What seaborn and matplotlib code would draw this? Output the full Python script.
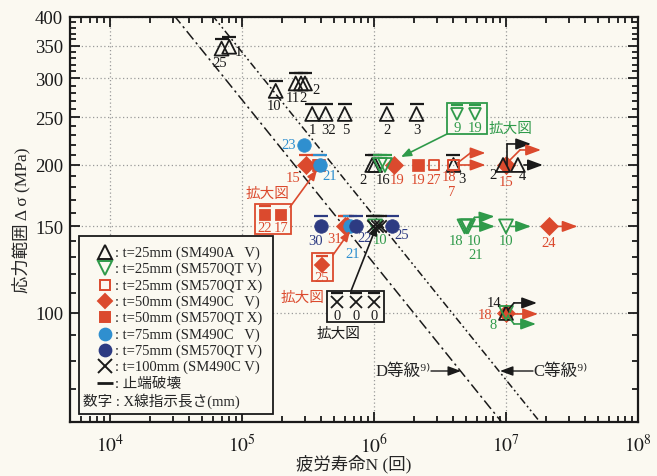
import warnings
warnings.filterwarnings("ignore")
import numpy as np
import pandas as pd
import matplotlib
matplotlib.use("Agg")
import matplotlib.pyplot as plt
import seaborn as sns
from matplotlib.patches import Rectangle
from matplotlib.ticker import FixedLocator, NullFormatter, FuncFormatter

sns.set_theme(style="ticks")
FAM = ["Liberation Serif", "Noto Sans CJK JP", "DejaVu Sans"]
plt.rcParams["font.family"] = FAM
plt.rcParams["mathtext.fontset"] = "stix"

# ---------------- data ----------------
# t=25mm (SM490A V) : black open up-triangles
tri_N = [7.0e4, 8.0e4, 1.8e5, 2.55e5, 2.8e5, 3.0e5, 3.4e5, 4.3e5, 6.0e5, 1.25e6, 2.1e6,
         0.97e6, 1.02e6, 4.0e6, 9.5e6, 1.23e7, 1.0e7]
tri_S = [345, 348, 283, 293, 293, 293, 254, 254, 254, 254, 254,
         200, 200, 200, 200, 200, 100]
tri_toe = [1, 1, 1, 1, 1, 1, 1, 1, 1, 1, 1, 1, 1, 1, 0, 0, 0]
tri_lab = ["25", "1", "10", "11", "2", "2", "1", "32", "5", "2", "3",
           "2", "16", "3", "2", "4", "14"]

# t=25mm (SM570QT V) : green open down-triangles
grn_N = [1.11e6, 1.21e6, 1.02e6, 4.85e6, 5.0e6, 5.15e6, 1.0e7, 1.0e7]
grn_S = [200, 200, 150, 150, 150, 150, 150, 100]
grn_toe = [1, 1, 1, 0, 0, 0, 0, 0]
grn_lab = ["9", "19", "10", "18", "10", "21", "10", "8"]

# t=25mm (SM570QT X) : red open squares
ro_N = [2.85e6, 4.0e6, 4.0e6]
ro_S = [200, 200, 200]
ro_toe = [0, 0, 0]
ro_lab = ["27", "18", "7"]

# t=50mm (SM490C V) : red diamonds
rd_N = [3.05e5, 6.0e5, 6.2e5, 1.41e6, 1.0e7, 2.1e7, 1.0e7]
rd_S = [200, 150, 150, 200, 200, 150, 100]
rd_toe = [1, 1, 1, 0, 0, 0, 0]
rd_lab = ["15", "31", "25", "19", "15", "24", "18"]

# t=50mm (SM570QT X) : red filled squares
rf_N = [3.75e5, 3.85e5, 2.15e6]
rf_S = [200, 200, 200]
rf_toe = [1, 0, 0]
rf_lab = ["22", "17", "19"]

# t=75mm (SM490C V) : light blue circles
lb_N = [2.95e5, 3.9e5, 6.6e5]
lb_S = [220, 200, 150]
lb_toe = [0, 1, 1]
lb_lab = ["23", "21", "21"]

# t=75mm (SM570QT V) : navy circles
nv_N = [4.0e5, 7.3e5, 1.37e6]
nv_S = [150, 150, 150]
nv_toe = [1, 1, 1]
nv_lab = ["30", "22", "25"]

# t=100mm (SM490C V) : black crosses
xx_N = [0.98e6, 1.05e6, 1.12e6]
xx_S = [150, 150, 150]
xx_toe = [1, 1, 1]
xx_lab = ["0", "0", "0"]

# design curves (JSSC): stress range at 2e6 cycles, slope m=3
grade_names = ["D等級⁹⁾", "C等級⁹⁾"]
grade_S2M = [100, 125]

x_ticks = [1e4, 1e5, 1e6, 1e7, 1e8]
x_ticklabels = ["$10^{4}$", "$10^{5}$", "$10^{6}$", "$10^{7}$", "$10^{8}$"]
y_ticks = [100, 150, 200, 250, 300, 350, 400]

legend_labels = [": t=25mm (SM490A   V)", ": t=25mm (SM570QT V)", ": t=25mm (SM570QT X)",
                 ": t=50mm (SM490C   V)", ": t=50mm (SM570QT X)", ": t=75mm (SM490C   V)",
                 ": t=75mm (SM570QT V)", ": t=100mm (SM490C V)", ": 止端破壊"]
legend_note = "数字 : X線指示長さ(mm)"

# ---------------- style ----------------
BG = "#fbf9f1"
BLK = "#1a1a1a"
RED = "#db4a2e"
GRN = "#2f9a4a"
LBL = "#2f8fcf"
NAV = "#2d3b82"

W, H = 657, 477
AX_L, AX_R, AX_T, AX_B = 70, 638, 18, 423
XPD, YPD = 132.0, 491.0   # pixels per decade


def P(px, py):
    """pixel position of the figure -> axes fraction"""
    return ((px - AX_L) / (AX_R - AX_L), (AX_B - py) / (AX_B - AX_T))


def shift(N, S, dx, dy):
    return N * 10 ** (dx / XPD), S * 10 ** (-dy / YPD)


fig = plt.figure(figsize=(W / 100, H / 100), dpi=100, facecolor=BG)
ax = fig.add_axes([AX_L / W, 1 - AX_B / H, (AX_R - AX_L) / W, (AX_B - AX_T) / H])
ax.set_facecolor(BG)
ax.set_xscale("log")
ax.set_yscale("log")

series = [
    dict(N=tri_N, S=tri_S, toe=tri_toe, lab=tri_lab, c=BLK, m="^", s=100, open=True, lc=BLK),
    dict(N=grn_N, S=grn_S, toe=grn_toe, lab=grn_lab, c=GRN, m="v", s=100, open=True, lc=GRN),
    dict(N=ro_N, S=ro_S, toe=ro_toe, lab=ro_lab, c=RED, m="s", s=60, open=True, lc=RED),
    dict(N=rf_N, S=rf_S, toe=rf_toe, lab=rf_lab, c=RED, m="s", s=70, open=False, lc=RED),
    dict(N=rd_N, S=rd_S, toe=rd_toe, lab=rd_lab, c=RED, m="D", s=85, open=False, lc=RED),
    dict(N=lb_N, S=lb_S, toe=lb_toe, lab=lb_lab, c=LBL, m="o", s=95, open=False, lc=LBL),
    dict(N=nv_N, S=nv_S, toe=nv_toe, lab=nv_lab, c=NAV, m="o", s=95, open=False, lc=NAV),
    dict(N=xx_N, S=xx_S, toe=xx_toe, lab=xx_lab, c=BLK, m="x", s=80, open=False, lc=BLK),
]

# label offsets in pixels (dx, dy down); None = shown only in an enlarged inset
lab_off = [
    [(-2, 14), (9, 5), (-2, 15), (-3, 14), (2, 14), (11, 6), (0, 16), (3, 16), (1, 16), (0, 16), (0, 16),
     (-9, 15), (8, 15), (8, 14), (-10, 10), (5, 11), (-12, -10)],
    [None, None, (5, 13), (-8, 14), (8, 14), (8, 28), (0, 14), (-13, 12)],
    [(0, 15), (-4, 12), (-2, 27)],
    [None, None, (0, 15)],
    [(-13, 13), (-10, 12), None, (3, 15), (0, 17), (0, 16), (-21, 2)],
    [(-15, 0), (10, 11), (3, 27)],
    [(-6, 14), (9, 11), (10, 8)],
    [None, None, None],
]

# design lines
Ngrid = np.logspace(3.5, 8.5, 200)
for S2M, ls in zip(grade_S2M, [(0, (7, 2.5, 1.5, 2.5)), (0, (5, 2, 1.2, 2, 1.2, 2))]):
    Sline = S2M * (2e6 / Ngrid) ** (1 / 3)
    sns.lineplot(x=Ngrid, y=Sline, ax=ax, color=BLK, lw=1.1, linestyle=ls, sort=False,
                 estimator=None, legend=False)

# points
for k, sd in enumerate(series):
    df = pd.DataFrame({"N": sd["N"], "S": sd["S"]})
    if sd["m"] == "x":
        sns.scatterplot(data=df, x="N", y="S", ax=ax, marker="x", s=sd["s"], color=sd["c"],
                        linewidth=1.3, zorder=6, legend=False)
    elif sd["open"]:
        sns.scatterplot(data=df, x="N", y="S", ax=ax, marker=sd["m"], s=sd["s"],
                        facecolors="none", edgecolor=sd["c"], linewidth=1.3, zorder=5, legend=False)
    else:
        sns.scatterplot(data=df, x="N", y="S", ax=ax, marker=sd["m"], s=sd["s"],
                        color=sd["c"], edgecolor=sd["c"], linewidth=0.5, zorder=4, legend=False)
    # toe-failure bars
    tb = df[np.array(sd["toe"]) == 1]
    if len(tb):
        bx, by = shift(tb["N"].values, tb["S"].values, 0, -10)
        sns.scatterplot(x=bx, y=by, ax=ax, marker="_", s=95, color=sd["c"], linewidth=1.6,
                        zorder=6, legend=False)
    for i, (n, s_, lab) in enumerate(zip(sd["N"], sd["S"], sd["lab"])):
        off = lab_off[k][i]
        if off is None:
            continue
        ax.annotate(lab, (n, s_), xytext=(off[0] * 0.72, -off[1] * 0.72), textcoords="offset points",
                    ha="center", va="center", fontsize=10.5, color=sd["lc"], zorder=7)

# run-out arrows : (series index, point index, colour, path offsets in px)
runouts = [
    (0, 14, BLK, [(4, 0), (4, -21), (28, -21)]),
    (0, 15, BLK, [(6, 0), (25, 0)]),
    (0, 16, BLK, [(2, -3), (8, -10), (31, -10)]),
    (4, 4, RED, [(3, -4), (14, -15), (35, -15)]),
    (4, 5, RED, [(7, 0), (29, 0)]),
    (4, 6, RED, [(3, 1), (32, 1)]),
    (2, 1, RED, [(4, -2), (17, -12), (32, -12)]),
    (2, 2, RED, [(4, 0), (32, 0)]),
    (1, 3, GRN, [(5, -1), (10, -9), (30, -10)]),
    (1, 5, GRN, [(3, 0), (27, 0)]),
    (1, 6, GRN, [(5, 0), (25, 0)]),
    (1, 7, GRN, [(2, 3), (8, 11), (30, 11)]),
]
AST = "-|>,head_length=0.65,head_width=0.24"
for si, pi, col, path in runouts:
    n0, s0 = series[si]["N"][pi], series[si]["S"][pi]
    pts = [shift(n0, s0, dx, dy) for dx, dy in path]
    if len(pts) > 2:
        ax.plot([p[0] for p in pts[:-1]], [p[1] for p in pts[:-1]], color=col, lw=1.2, zorder=6)
    ax.annotate("", xy=pts[-1], xytext=pts[-2],
                arrowprops=dict(arrowstyle=AST, color=col, lw=1.2, mutation_scale=14,
                                shrinkA=0, shrinkB=0), zorder=6)

# axes formatting
ax.set_xlim(10 ** (4 - 40 / XPD), 1e8)
ax.set_ylim(60, 400)
ax.xaxis.set_major_locator(FixedLocator(x_ticks))
ax.xaxis.set_major_formatter(FuncFormatter(lambda v, p: x_ticklabels[x_ticks.index(v)] if v in x_ticks else ""))
ax.xaxis.set_minor_locator(FixedLocator([m * 10 ** d for d in range(3, 8) for m in range(2, 10)]))
ax.xaxis.set_minor_formatter(NullFormatter())
ax.yaxis.set_major_locator(FixedLocator(y_ticks))
ax.yaxis.set_major_formatter(FuncFormatter(lambda v, p: f"{int(v)}"))
ax.yaxis.set_minor_locator(FixedLocator([v for v in range(60, 400, 10) if v not in y_ticks]))
ax.yaxis.set_minor_formatter(NullFormatter())
ax.tick_params(which="both", direction="in", top=True, right=True, colors=BLK, width=1.3)
ax.tick_params(which="major", length=7, labelsize=13.5, pad=5)
ax.tick_params(which="minor", length=4)
ax.tick_params(axis="x", which="major", labelsize=14, pad=8)
ax.grid(which="major", linestyle=(0, (1, 2)), color="#9a9a9a", lw=0.9)
for sp in ax.spines.values():
    sp.set_linewidth(1.6)
    sp.set_color(BLK)
ax.set_xlabel("疲労寿命N (回)", fontsize=12.5, labelpad=-1)
ax.set_ylabel("応力範囲 Δ σ (MPa)", fontsize=12.5, labelpad=3)

# design grade labels
ax.annotate("", xy=P(461, 372), xytext=P(431, 372), xycoords="axes fraction",
            arrowprops=dict(arrowstyle=AST, color=BLK, lw=1.0, mutation_scale=12, shrinkA=0, shrinkB=0))
ax.text(*P(431, 372), grade_names[0], transform=ax.transAxes, ha="right", va="center", fontsize=12)
ax.annotate("", xy=P(500, 372), xytext=P(533, 372), xycoords="axes fraction",
            arrowprops=dict(arrowstyle=AST, color=BLK, lw=1.0, mutation_scale=12, shrinkA=0, shrinkB=0))
ax.text(*P(533, 372), grade_names[1], transform=ax.transAxes, ha="left", va="center", fontsize=12)


# enlarged insets
def inset(box, items, col, title, title_xy, arrow_from, arrow_to):
    x0, y0, x1, y1 = box
    a0 = P(x0, y1)
    a1 = P(x1, y0)
    ax.add_patch(Rectangle(a0, a1[0] - a0[0], a1[1] - a0[1], transform=ax.transAxes,
                           fill=True, facecolor=BG, edgecolor=col, lw=1.3, zorder=8))
    for (px, py, mk, ms, mfc, lab, bar) in items:
        ax.plot(*P(px, py), marker=mk, ms=ms, mfc=mfc, mec=col, mew=1.3, color=col,
                transform=ax.transAxes, zorder=9, clip_on=False)
        if bar:
            ax.plot(*P(px, py - 9), marker="_", ms=9, mew=1.6, color=col, transform=ax.transAxes, zorder=9)
        ax.text(*P(px, py + 13), lab, transform=ax.transAxes, ha="center", va="center",
                fontsize=10.5, color=col, zorder=9)
    ax.text(*P(*title_xy), title, transform=ax.transAxes, ha="center", va="center",
            fontsize=10.5, color=col, zorder=9)
    ax.annotate("", xy=P(*arrow_to), xytext=P(*arrow_from), xycoords="axes fraction",
                arrowprops=dict(arrowstyle="-|>,head_length=0.5,head_width=0.2", color=col, lw=1.2,
                                mutation_scale=12, shrinkA=0, shrinkB=0), zorder=8)


inset((255, 205, 291, 235), [(265, 216, "s", 7.5, RED, rf_lab[0], rf_toe[0]),
                             (281, 216, "s", 7.5, RED, rf_lab[1], rf_toe[1])],
      RED, "拡大図", (268, 194), (290, 208), (317, 171))
inset((312, 254, 333, 282), [(322, 266, "D", 7.5, RED, rd_lab[2], rd_toe[2])],
      RED, "拡大図", (303, 298), (333, 256), (350, 232))
inset((327, 292, 384, 323), [(337, 303, "x", 8, "none", xx_lab[0], xx_toe[0]),
                             (356, 303, "x", 8, "none", xx_lab[1], xx_toe[1]),
                             (374, 303, "x", 8, "none", xx_lab[2], xx_toe[2])],
      BLK, "拡大図", (339, 334), (351, 292), (377, 226))
inset((447, 104, 487, 135), [(457, 115, "v", 9, "none", grn_lab[0], grn_toe[0]),
                             (475, 115, "v", 9, "none", grn_lab[1], grn_toe[1])],
      GRN, "拡大図", (511, 129), (447, 135), (401, 158))

# legend box
lx0, ly0, lx1, ly1 = 79, 237, 273, 415
a0, a1 = P(lx0, ly1), P(lx1, ly0)
ax.add_patch(Rectangle(a0, a1[0] - a0[0], a1[1] - a0[1], transform=ax.transAxes,
                       facecolor=BG, edgecolor=BLK, lw=1.3, zorder=10))
leg_mk = [("^", BLK, "none", 9.5), ("v", GRN, "none", 9.5), ("s", RED, "none", 7),
          ("D", RED, RED, 7.5), ("s", RED, RED, 7.5), ("o", LBL, LBL, 8.5),
          ("o", NAV, NAV, 8.5), ("x", BLK, "none", 10), ("_", BLK, BLK, 11)]
row_y = [253, 269, 286, 302, 318, 335, 351, 367, 384]
for (mk, ec, fc, ms), ry, lab in zip(leg_mk, row_y, legend_labels):
    ax.plot(*P(105, ry), marker=mk, ms=ms, mec=ec, mfc=fc, mew=1.4 if mk != "_" else 2.0, color=ec,
            transform=ax.transAxes, zorder=11)
    ax.text(*P(115, ry), lab, transform=ax.transAxes, ha="left", va="center", fontsize=10.5, zorder=11)
ax.text(*P(83, 401), legend_note, transform=ax.transAxes, ha="left", va="center", fontsize=10.5, zorder=11)

fig.savefig("out.png", dpi=100, facecolor=BG)
